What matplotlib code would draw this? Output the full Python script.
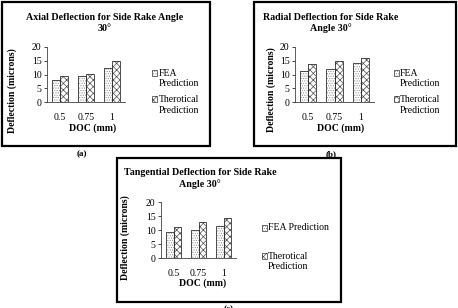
import matplotlib
matplotlib.use("Agg")
import matplotlib.pyplot as plt
from matplotlib.patches import Rectangle
import numpy as np

# datos
doc = ["0.5", "0.75", "1"]
axial_fea = [8.0, 9.3, 12.2]
axial_teo = [9.3, 10.1, 15.0]
radial_fea = [11.2, 12.1, 14.2]
radial_teo = [13.8, 15.0, 16.0]
tang_fea = [9.2, 10.1, 11.3]
tang_teo = [11.2, 13.0, 14.3]

plt.rcParams['font.family'] = ['Liberation Serif', 'DejaVu Serif']
plt.rcParams['hatch.linewidth'] = 0.5

W, H = 458, 308
fig = plt.figure(figsize=(W / 100, H / 100), dpi=100)


def fx(x):
    return x / W


def fy(y):
    return 1 - y / H


def caja(x0, y0, x1, y1):
    fig.patches.append(Rectangle((fx(x0), fy(y1)), fx(x1 - x0), (y1 - y0) / H,
                                 transform=fig.transFigure, fill=False,
                                 edgecolor="black", linewidth=1.6))


def panel(x0, x1, ytop, ybot, fea, teo, titulo, tx, ty, lx, ly, xl, xly, leg):
    ax = fig.add_axes([fx(x0), fy(ybot), fx(x1 - x0), (ybot - ytop) / H])
    x = np.arange(len(doc))
    w = 0.31
    # relleno punteado y cuadriculado, luego contorno negro
    ax.bar(x - w / 2, fea, w, color="white", edgecolor="#8f8f8f", hatch=".......", linewidth=0)
    ax.bar(x + w / 2, teo, w, color="white", edgecolor="#505050", hatch="xxxxx", linewidth=0)
    ax.bar(x - w / 2, fea, w, fill=False, edgecolor="#303030", linewidth=0.6)
    ax.bar(x + w / 2, teo, w, fill=False, edgecolor="#303030", linewidth=0.6)
    ax.set_xlim(-0.5, 2.5)
    ax.set_ylim(0, 20)
    ax.set_yticks([0, 5, 10, 15, 20])
    ax.set_xticks(x)
    ax.set_xticklabels(doc)
    ax.tick_params(axis="y", labelsize=7, length=2, pad=2, width=0.5)
    ax.tick_params(axis="x", labelsize=7, length=0, pad=8)
    for s in ["top", "right"]:
        ax.spines[s].set_visible(False)
    for s in ["left", "bottom"]:
        ax.spines[s].set_linewidth(0.6)
        ax.spines[s].set_color("#404040")
    ax.patch.set_alpha(0)

    fig.text(fx(tx), fy(ty), titulo, ha="center", va="center", fontsize=7.2,
             fontweight="bold", linespacing=1.25)
    fig.text(fx(lx), fy(ly), "Deflection (microns)", rotation=90, ha="center",
             va="center", fontsize=7, fontweight="bold")
    fig.text(fx(xl), fy(xly), "DOC (mm)", ha="center", va="center", fontsize=7,
             fontweight="bold")

    # leyenda manual
    sq, tx0, filas = leg
    for (lab, yc, ysq), h, c in zip(filas, [".......", "xxxxx"], ["#8f8f8f", "#505050"]):
        fig.patches.append(Rectangle((fx(sq), fy(ysq + 3)), fx(5), 6 / H,
                                     transform=fig.transFigure, facecolor="white",
                                     edgecolor=c, hatch=h, linewidth=0))
        fig.patches.append(Rectangle((fx(sq), fy(ysq + 3)), fx(5), 6 / H,
                                     transform=fig.transFigure, fill=False,
                                     edgecolor="#303030", linewidth=0.5))
        fig.text(fx(tx0), fy(yc), lab, ha="left", va="center", fontsize=7,
                 linespacing=1.15)
    return ax


# (a)
caja(2, 2, 210, 146)
panel(47, 125, 47, 102, axial_fea, axial_teo,
      "Axial Deflection for Side Rake Angle\n30°", 105, 23, 12, 91, 93, 128,
      (152, 159, [("FEA\nPrediction", 78.5, 73), ("Therotical\nPrediction", 105, 99)]))
fig.text(fx(82), fy(154), "(a)", ha="center", va="center", fontsize=6.5, fontweight="bold")

# (b)
caja(254, 2, 456, 146)
panel(295, 374, 47, 102, radial_fea, radial_teo,
      "Radial Deflection for Side Rake\nAngle 30°", 331, 23, 271, 90, 341, 128,
      (394, 400, [("FEA\nPrediction", 78.5, 73), ("Therotical\nPrediction", 105, 99)]))
fig.text(fx(331), fy(154), "(b)", ha="center", va="center", fontsize=6.5, fontweight="bold")

# (c)
caja(117, 158, 341, 302)
panel(161, 236, 202, 258, tang_fea, tang_teo,
      "Tangential Deflection for Side Rake\nAngle 30°", 200, 178.5, 125, 238, 203, 283,
      (262, 268, [("FEA Prediction", 228, 228), ("Therotical\nPrediction", 261.5, 256)]))
fig.text(fx(229), fy(305), "(c)", ha="center", va="top", fontsize=6.5, fontweight="bold")

fig.savefig("out.png", dpi=100)
plt.close(fig)
